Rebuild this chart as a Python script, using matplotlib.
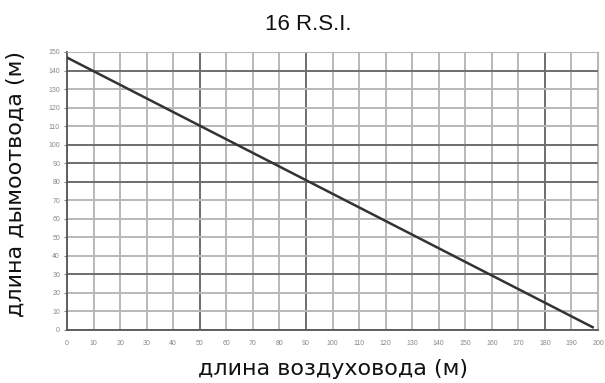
import matplotlib
matplotlib.use("Agg")
import matplotlib.pyplot as plt
import numpy as np

title = "16 R.S.I."
xlabel = "длина воздуховода (м)"
ylabel = "длина дымоотвода (м)"
x_vals = [0, 198]
y_vals = [147, 1.5]
x_ticks = list(range(0, 201, 10))
y_ticks = list(range(0, 151, 10))
dark_x = [50, 90, 180]
dark_y = [30, 80, 90, 100, 140]

plt.rcParams['font.family'] = ['Liberation Sans', 'DejaVu Sans']
fig = plt.figure(figsize=(6.05, 3.83), dpi=100)
ax = fig.add_axes([67/605, 1-330/383, (598-67)/605, (330-52)/383])
ax.set_xlim(0, 200)
ax.set_ylim(0, 150)
for xv in x_ticks:
    c = '#6e6e6e' if xv in dark_x else '#b8b8b8'
    ax.axvline(xv, color=c, lw=1.4, zorder=1)
for yv in y_ticks:
    c = '#6e6e6e' if yv in dark_y else '#b8b8b8'
    ax.axhline(yv, color=c, lw=1.4, zorder=1)
ax.plot(x_vals, y_vals, color='#333333', lw=1.8, zorder=3)
ax.set_xticks(x_ticks)
ax.set_yticks(y_ticks)
ax.tick_params(axis='both', labelsize=5, colors='#888888', length=2, width=0.8, pad=3)
ax.tick_params(axis='x', length=0, pad=7)
for s in ['top', 'right']:
    ax.spines[s].set_color('#b8b8b8')
for s in ['left', 'bottom']:
    ax.spines[s].set_color('#555555')
    ax.spines[s].set_linewidth(1.3)
fig.text(308/605, 1-24/383, title, ha='center', va='center', fontsize=16, color='#111111')
fig.text(333/605, 1-369/383, xlabel, ha='center', va='center', fontsize=16,
         family=['DejaVu Sans'], color='#111111')
fig.text(16/605, 1-184/383, ylabel, ha='center', va='center', fontsize=16,
         family=['DejaVu Sans'], rotation=90, color='#111111')
fig.savefig("out.png", dpi=100)
